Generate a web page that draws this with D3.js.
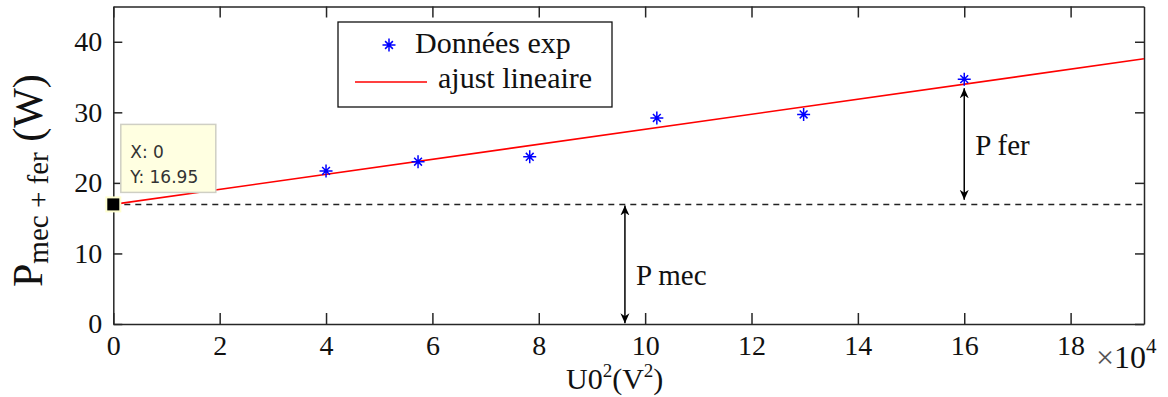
<!DOCTYPE html>
<html>
<head>
<meta charset="utf-8">
<script src="https://cdn.jsdelivr.net/npm/d3@7"></script>
<style>
    body { margin: 0; background: #fff; }
    svg { display: block; }
    .axis path, .axis line { stroke: #262626; stroke-width: 1.5; }
    .axis text { font-family: "Liberation Serif", "Times New Roman", serif; font-size: 28px; fill: #111; }
    .lbl { font-family: "Liberation Serif", "Times New Roman", serif; fill: #111; }
</style>
</head>
<body>
<svg id="chart"></svg>
<script>
// data (x in units of 1e4 V^2)
const xTicks = [0, 2, 4, 6, 8, 10, 12, 14, 16, 18];
const yTicks = [0, 10, 20, 30, 40];
const xData = [4.0, 5.73, 7.83, 10.22, 12.98, 16.0];
const yData = [21.7, 23.0, 23.7, 29.2, 29.7, 34.7];
const fitIntercept = 16.95;
const fitSlope = 1.065;
const xMax = 19.38;
const yMax = 45;
// arrows: x, y from, y to, label height
const arrowX = [9.62, 16.0];
const arrowY0 = [0.1, 17.6];
const arrowY1 = [16.8, 33.4];
const arrowLabelY = [5.5, 23.9];
const arrowLabels = ["P mec", "P fer"];

const W = 1168, H = 397;
const margin = {top: 6.5, right: 24, bottom: 73, left: 113.3};

const svg = d3.select("#chart").attr("width", W).attr("height", H);
const innerW = W - margin.left - margin.right;
const innerH = H - margin.top - margin.bottom;

const chart = svg.append("g").attr("transform", `translate(${margin.left},${margin.top})`);

const x = d3.scaleLinear().domain([0, xMax]).range([0, innerW]);
const y = d3.scaleLinear().domain([0, yMax]).range([innerH, 0]);

// axes, ticks inside like matlab box
chart.append("g").attr("class", "axis")
    .attr("transform", `translate(0,${innerH})`)
    .call(d3.axisBottom(x).tickValues(xTicks).tickSizeInner(-11).tickSizeOuter(0).tickPadding(11));
chart.append("g").attr("class", "axis")
    .call(d3.axisLeft(y).tickValues(yTicks).tickSizeInner(-9).tickSizeOuter(0).tickPadding(11));
chart.append("g").attr("class", "axis")
    .call(d3.axisTop(x).tickValues(xTicks).tickSizeInner(-11).tickSizeOuter(0).tickFormat(""));
chart.append("g").attr("class", "axis")
    .attr("transform", `translate(${innerW},0)`)
    .call(d3.axisRight(y).tickValues(yTicks).tickSizeInner(-9).tickSizeOuter(0).tickFormat(""));

// dashed line at the intercept
chart.append("line")
    .attr("x1", x(0)).attr("x2", x(xMax))
    .attr("y1", y(fitIntercept)).attr("y2", y(fitIntercept))
    .attr("stroke", "#222").attr("stroke-width", 1.5)
    .attr("stroke-dasharray", "6,5");

// fit line
const line = d3.line().x(d => x(d)).y(d => y(fitIntercept + fitSlope * d));
chart.append("path")
    .datum([0, xMax])
    .attr("d", line)
    .attr("fill", "none")
    .attr("stroke", "#ff0000")
    .attr("stroke-width", 1.6);

// asterisk markers
function star(cx, cy, r) {
    const d = r * 0.6;
    return `M${cx - r},${cy}L${cx + r},${cy}M${cx},${cy - r}L${cx},${cy + r}` +
        `M${cx - d},${cy - d}L${cx + d},${cy + d}M${cx - d},${cy + d}L${cx + d},${cy - d}`;
}
chart.selectAll(".pt")
    .data(xData.map((d, i) => [d, yData[i]]))
    .enter().append("path")
    .attr("class", "pt")
    .attr("d", d => star(x(d[0]), y(d[1]), 6.5))
    .attr("stroke", "#0000ff")
    .attr("stroke-width", 1.5)
    .attr("fill", "none");

// double arrows
svg.append("defs").append("marker")
    .attr("id", "head")
    .attr("viewBox", "0 0 10 12")
    .attr("refX", 10).attr("refY", 6)
    .attr("markerWidth", 10).attr("markerHeight", 12)
    .attr("markerUnits", "userSpaceOnUse")
    .attr("orient", "auto-start-reverse")
    .append("path")
    .attr("d", "M0,1.5L10,6L0,10.5L3,6Z")
    .attr("fill", "#000");

arrowX.forEach((ax, i) => {
    chart.append("line")
        .attr("x1", x(ax)).attr("x2", x(ax))
        .attr("y1", y(arrowY0[i])).attr("y2", y(arrowY1[i]))
        .attr("stroke", "#000").attr("stroke-width", 1.5)
        .attr("marker-start", "url(#head)")
        .attr("marker-end", "url(#head)");
    chart.append("text")
        .attr("class", "lbl")
        .attr("x", x(ax) + 11)
        .attr("y", y(arrowLabelY[i]))
        .attr("font-size", 29)
        .text(arrowLabels[i]);
});

// data tip
const tipX = x(0), tipY = y(fitIntercept);
chart.append("rect")
    .attr("x", tipX + 7.5).attr("y", tipY - 80)
    .attr("width", 95).attr("height", 68)
    .attr("fill", "#ffffe1").attr("stroke", "#cfcfc4").attr("stroke-width", 1.5);
const tip = chart.append("text")
    .attr("font-family", "DejaVu Sans, Verdana, sans-serif")
    .attr("font-size", 17).attr("fill", "#333");
tip.append("tspan").attr("x", tipX + 17).attr("y", tipY - 46).text("X: 0");
tip.append("tspan").attr("x", tipX + 17).attr("y", tipY - 21).text("Y: " + fitIntercept);
chart.append("rect")
    .attr("x", tipX - 7).attr("y", tipY - 7)
    .attr("width", 14).attr("height", 14)
    .attr("fill", "#000").attr("stroke", "#ffffd0").attr("stroke-width", 2);

// legend
const leg = svg.append("g").attr("transform", "translate(338,22)");
leg.append("rect").attr("width", 274).attr("height", 85)
    .attr("fill", "#fff").attr("stroke", "#111").attr("stroke-width", 1.3);
leg.append("path").attr("d", star(51, 23, 6.5))
    .attr("stroke", "#0000ff").attr("stroke-width", 1.5);
leg.append("text").attr("class", "lbl").attr("x", 77).attr("y", 31)
    .attr("font-size", 30).text("Données exp");
leg.append("line").attr("x1", 17).attr("x2", 89).attr("y1", 60).attr("y2", 60)
    .attr("stroke", "#ff0000").attr("stroke-width", 1.6);
leg.append("text").attr("class", "lbl").attr("x", 100).attr("y", 66)
    .attr("font-size", 30).text("ajust lineaire");

// axis labels
const xl = svg.append("text").attr("class", "lbl")
    .attr("x", 566).attr("y", 389).attr("font-size", 30);
xl.append("tspan").text("U0");
xl.append("tspan").attr("font-size", 19).attr("dy", -12).text("2");
xl.append("tspan").attr("dy", 12).text("(V");
xl.append("tspan").attr("font-size", 19).attr("dy", -12).text("2");
xl.append("tspan").attr("dy", 12).text(")");

const xm = svg.append("text").attr("class", "lbl")
    .attr("x", 1096).attr("y", 368).attr("font-size", 32);
xm.append("tspan").attr("fill", "#555").text("×");
xm.append("tspan").text("10");
xm.append("tspan").attr("font-size", 21).attr("dy", -15).text("4");

const yl = svg.append("text").attr("class", "lbl")
    .attr("transform", "translate(42,287) rotate(-90)")
    .attr("font-size", 42);
yl.append("tspan").text("P");
yl.append("tspan").attr("font-size", 29).attr("dy", 6).text("mec + fer");
yl.append("tspan").attr("dy", -6).text(" (W)");
</script>
</body>
</html>
